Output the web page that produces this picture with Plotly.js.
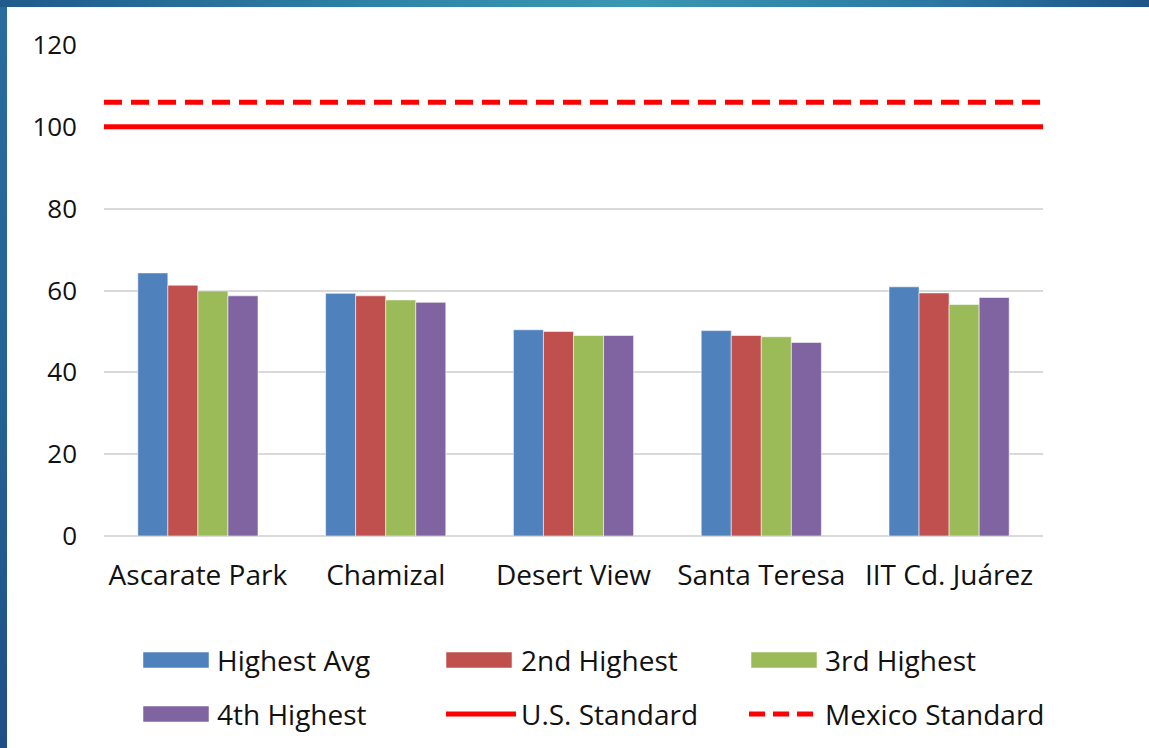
<!DOCTYPE html>
<html>
<head>
<meta charset="utf-8">
<script src="https://cdn.plot.ly/plotly-3.0.1.min.js"></script>
<style>
  html, body { margin: 0; padding: 0; width: 1149px; height: 748px; overflow: hidden; }
  body { background: linear-gradient(to bottom, #2a6c9e 0%, #245f92 60%, #1f4f86 100%); position: relative; }
  #topband { position: absolute; left: 0; top: 0; width: 1149px; height: 7px;
    background: linear-gradient(to right, #1f5a8c 0%, #2f86a8 35%, #3a97b2 55%, #2c7aa3 80%, #1e5488 100%); }
  #chart { position: absolute; left: 7px; top: 7px; width: 1142px; height: 741px; background: #fff;
    box-shadow: inset 0 2px 2px rgba(0,0,0,0.12); }
</style>
</head>
<body>
<div id="topband"></div>
<div id="chart"></div>
<script>
// ---- data ----
const categories = ["Ascarate Park", "Chamizal", "Desert View", "Santa Teresa", "IIT Cd. Juárez"];
const seriesNames = ["Highest Avg", "2nd Highest", "3rd Highest", "4th Highest"];
const highestAvg = [64.3, 59.3, 50.4, 50.2, 60.9];
const secondHighest = [61.3, 58.7, 50.0, 49.0, 59.4];
const thirdHighest = [59.9, 57.7, 49.0, 48.7, 56.6];
const fourthHighest = [58.7, 57.1, 49.0, 47.3, 58.3];
const standardNames = ["U.S. Standard", "Mexico Standard"];
const usStandard = [100, 100];
const mexicoStandard = [106, 106];
const yTicks = [0, 20, 40, 60, 80, 100, 120];

// ---- styling ----
const colors = ["#4F81BD", "#C0504D", "#9BBB59", "#8064A2"];
const FONT = "Open Sans, Noto Sans, sans-serif";
const series = [highestAvg, secondHighest, thirdHighest, fourthHighest];

const traces = series.map((vals, i) => ({
  type: "bar", name: seriesNames[i], x: categories, y: vals,
  marker: { color: colors[i], line: { color: "rgba(255,255,255,0.55)", width: 1 } },
  showlegend: false, hoverinfo: "x+y+name"
}));
traces.push({
  type: "scatter", mode: "lines", name: standardNames[0], xaxis: "x2", yaxis: "y",
  x: [0, 1], y: usStandard, line: { color: "#FF0000", width: 5 }, showlegend: false
});
traces.push({
  type: "scatter", mode: "lines", name: standardNames[1], xaxis: "x2", yaxis: "y",
  x: [0, 1], y: mexicoStandard, line: { color: "#FF0000", width: 5, dash: "18px,9px" }, showlegend: false
});

// pixel (page) -> paper helpers for manual legend
const PL = 104, PR = 1043, PT = 45, PB = 536;
const px = v => (v - PL) / (PR - PL);
const py = v => (PB - v) / (PB - PT);

const legendItems = [
  { kind: "rect", color: colors[0], name: seriesNames[0], x0: 143, tx: 215, y: 660 },
  { kind: "rect", color: colors[1], name: seriesNames[1], x0: 446, tx: 519, y: 660 },
  { kind: "rect", color: colors[2], name: seriesNames[2], x0: 751, tx: 823, y: 660 },
  { kind: "rect", color: colors[3], name: seriesNames[3], x0: 143, tx: 215, y: 714 },
  { kind: "line", color: "#FF0000", name: standardNames[0], x0: 446, tx: 519, y: 714 },
  { kind: "dash", color: "#FF0000", name: standardNames[1], x0: 749, tx: 823, y: 714 }
];
const shapes = [];
const annotations = [];
legendItems.forEach(it => {
  if (it.kind === "rect") {
    shapes.push({ type: "rect", xref: "paper", yref: "paper",
      x0: px(it.x0), x1: px(it.x0 + 66), y0: py(it.y + 8), y1: py(it.y - 8),
      fillcolor: it.color, line: { color: "rgba(255,255,255,0.5)", width: 1 } });
  } else {
    shapes.push({ type: "line", xref: "paper", yref: "paper",
      x0: px(it.x0), x1: px(it.x0 + 70), y0: py(it.y), y1: py(it.y),
      line: { color: it.color, width: 5, dash: it.kind === "dash" ? "16px,8px" : "solid" } });
  }
  annotations.push({ xref: "paper", yref: "paper", x: px(it.tx), y: py(it.y),
    xanchor: "left", yanchor: "middle", showarrow: false, text: it.name,
    font: { family: FONT, size: 28, color: "#111" } });
});

const layout = {
  width: 1142, height: 741,
  margin: { l: 97, r: 106, t: 38, b: 212 },
  paper_bgcolor: "#ffffff", plot_bgcolor: "#ffffff",
  font: { family: FONT, size: 26, color: "#111" },
  barmode: "group", bargap: 0.36, bargroupgap: 0,
  showlegend: false,
  xaxis: { type: "category", showgrid: false, zeroline: false, showline: false, ticks: "",
    ticklabelstandoff: 20, tickfont: { family: FONT, size: 28, color: "#111" } },
  xaxis2: { overlaying: "x", range: [0, 1], visible: false, fixedrange: true },
  yaxis: { range: [0, 120], tickvals: yTicks, ticktext: yTicks.map(String),
    showgrid: true, gridcolor: "#D9D9D9", gridwidth: 2, zeroline: true, zerolinecolor: "#D9D9D9",
    zerolinewidth: 2, showline: false, ticks: "", ticklabelstandoff: 26,
    tickfont: { family: FONT, size: 26, color: "#111" } },
  shapes: shapes,
  annotations: annotations
};

Plotly.newPlot("chart", traces, layout, { displayModeBar: false, staticPlot: true });
</script>
</body>
</html>
